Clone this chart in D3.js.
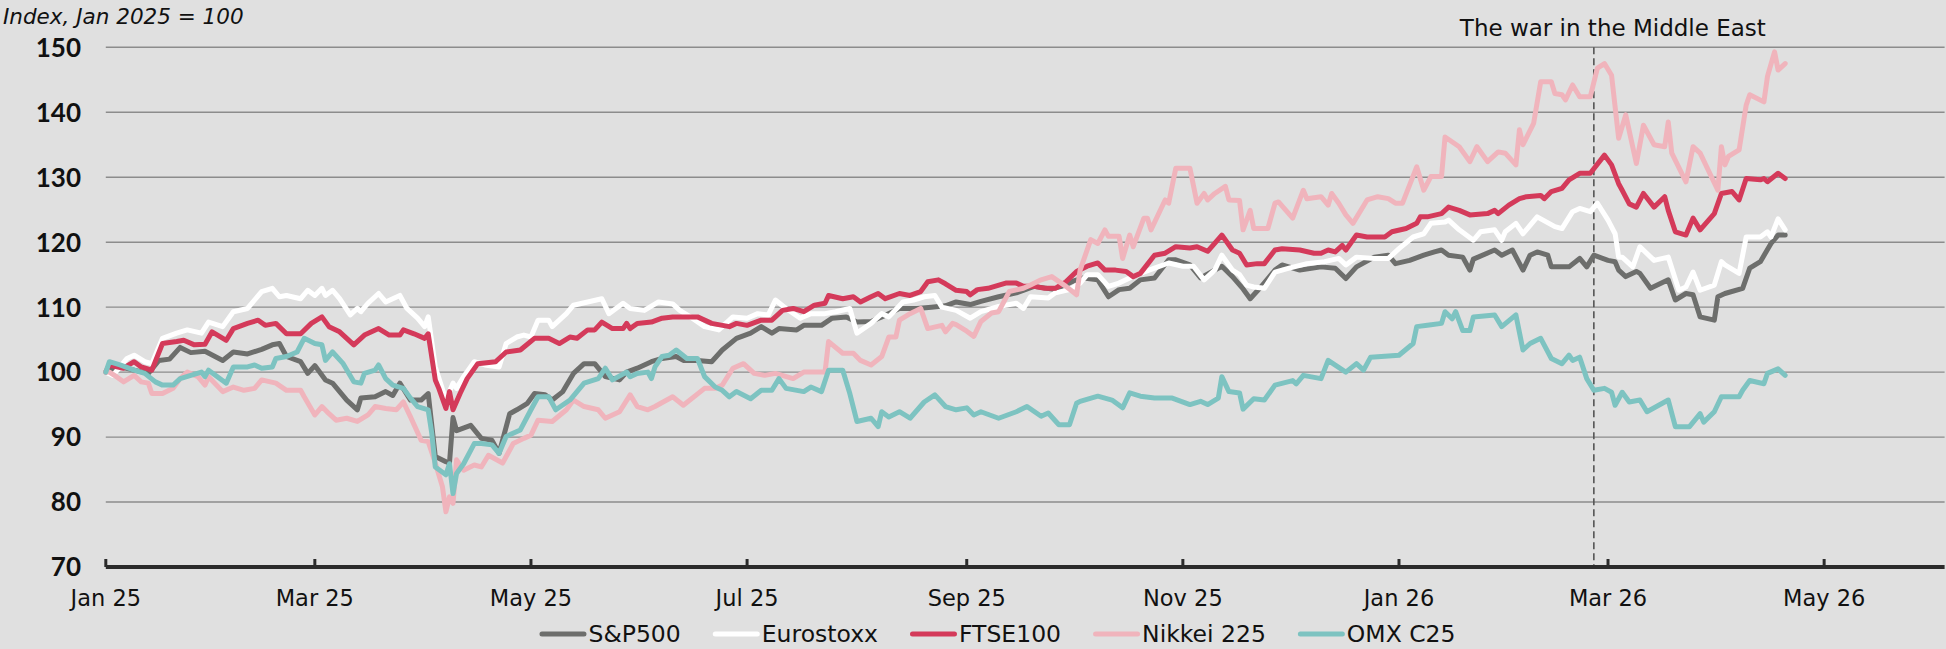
<!DOCTYPE html>
<html><head><meta charset="utf-8">
<script src="https://cdn.jsdelivr.net/npm/d3@7"></script>
<style>
html,body{margin:0;padding:0;background:#e0e0e0;}
svg{display:block;}
text{font-family:"DejaVu Sans",sans-serif;fill:#111;}
text.ylab{font-family:Lato,"DejaVu Sans",sans-serif;}
</style></head>
<body><svg id="c" width="1946" height="649"></svg>
<script>
// Values: [days since 1 Jan 2025, index level (Jan 2025 = 100)]
const sp500 = [[0,100],[4,100.8],[8,100.3],[12,99.8],[15,101.8],[18,102],[21,103.8],[24,103],[28,103.2],[33,101.8],[36,103.1],[40,102.8],[44,103.5],[47,104.2],[49,104.4],[51,102.4],[55,101.6],[57,99.8],[59,101],[62,98.8],[64,98.3],[68,95.7],[71,94.2],[72,96],[76,96.2],[79,97],[81,96.4],[83,98.3],[86,95.7],[89,95.7],[91,96.7],[93,87],[96,86.2],[97,86],[98,93],[99,91],[103,91.8],[106,89.8],[109,89.5],[111,87.5],[114,93.6],[116,94.2],[119,95.2],[121,96.7],[124,96.5],[126,95.7],[129,97],[132,99.8],[135,101.3],[138,101.3],[141,99.3],[145,98.8],[147,100],[150,100.6],[154,101.6],[157,102.1],[161,102.4],[163,101.8],[167,101.8],[171,101.6],[174,103.4],[178,105.2],[182,106],[185,107],[188,106],[190,106.7],[195,106.5],[197,107.2],[202,107.2],[205,108.3],[209,108.5],[212,107.7],[216,107.8],[219,108.5],[224,109.8],[229,109.8],[233,110],[237,110.2],[240,110.8],[244,110.4],[247,110.9],[252,111.6],[257,112.2],[262,113.2],[268,112.7],[273,114],[276,114.5],[280,114.2],[283,111.6],[286,112.7],[289,112.9],[292,114.2],[296,114.5],[300,117.3],[302,117.3],[306,116.5],[309,114.5],[315,116.3],[318,114.7],[321,112.8],[323,111.3],[326,113.1],[330,115.7],[332,116.5],[337,115.7],[343,116.2],[347,116],[350,114.4],[353,116.2],[358,117.7],[362,118],[364,116.7],[368,117.2],[372,118],[375,118.5],[377,118.8],[379,118],[383,117.7],[385,115.7],[386,117.4],[392,118.8],[394,118],[397,118.8],[400,115.7],[402,118],[404,118.5],[407,118],[408,116.2],[413,116.2],[416,117.5],[418,116.2],[420,118],[424,117.2],[426,117],[427,115.7],[429,114.7],[432,115.5],[433,115.2],[436,112.9],[441,114.2],[443,111.1],[446,112.1],[448,111.9],[450,108.5],[454,108],[455,111.6],[457,112.1],[462,112.9],[464,116],[467,117],[470,119.8],[472,121.1],[474,121.1]];
const eurostoxx = [[0,100],[2,99.5],[6,102.1],[8,102.6],[11,101.6],[13,101.3],[16,105.2],[20,106],[23,106.5],[27,106],[29,107.7],[33,107],[36,109.3],[40,109.8],[44,112.4],[47,112.9],[49,111.6],[51,111.8],[55,111.3],[57,112.6],[59,111.8],[61,112.9],[62,111.8],[64,112.6],[66,111.3],[69,108.8],[71,109.8],[72,109.3],[74,110.6],[77,112.1],[79,110.8],[83,111.8],[85,109.8],[88,108.3],[90,107],[91,108.5],[93,100.8],[96,95.7],[98,98.3],[99,97.5],[101,99.3],[104,101.6],[107,101.1],[111,100.8],[113,104.4],[116,105.4],[118,105.7],[120,105.4],[122,108],[125,108],[126,107],[130,109],[132,110.3],[136,110.8],[140,111.3],[142,109],[146,110.6],[148,109.8],[152,109.5],[156,110.8],[160,110.5],[162,109.5],[165,108.5],[169,107],[173,106.5],[177,108.5],[181,108.3],[184,109],[187,108.8],[189,111.1],[192,109.8],[196,108.3],[199,109],[203,109],[206,109.3],[210,109.8],[212,106],[216,107.5],[219,109],[221,108.5],[225,110.8],[228,111.1],[231,111.6],[234,111.8],[236,110],[240,109.5],[244,108.3],[247,109.3],[252,110.1],[257,110.6],[259,109.8],[261,111.6],[266,111.4],[268,112.2],[272,112.7],[275,113.7],[277,115],[280,115],[283,113.2],[286,113.7],[289,114.5],[292,115.2],[296,116],[300,116.8],[304,116.3],[307,116.3],[310,114.2],[313,115.7],[315,118],[318,115.7],[320,115],[322,113.4],[324,113.1],[327,112.9],[330,115.4],[334,116],[339,116.7],[344,117],[348,117.5],[350,116.5],[353,117.7],[358,117.5],[362,117.5],[365,119],[369,120.8],[372,121.3],[374,122.9],[378,123.1],[379,123.4],[382,121.9],[386,120.3],[388,121.6],[392,121.9],[394,120.3],[395,121.6],[398,122.9],[400,121.3],[402,122.6],[404,123.9],[409,122.4],[411,122.1],[414,124.7],[416,125.2],[419,124.7],[421,126],[424,123.4],[426,121.3],[427,117.7],[428,117.7],[431,116.2],[433,119.3],[437,117.2],[441,117.7],[444,112.6],[446,113.1],[448,115.4],[450,112.6],[454,113.4],[456,117],[457,116.5],[461,115.2],[463,120.8],[467,120.8],[469,121.6],[470,120.8],[472,123.6],[474,121.9]];
const ftse100 = [[0,100],[1,101.1],[5,100.6],[8,101.6],[10,100.8],[13,100.3],[16,104.4],[20,104.7],[22,104.9],[25,104.2],[28,104.3],[30,106.2],[34,104.9],[36,106.7],[40,107.5],[43,108],[45,107.2],[48,107.5],[51,105.9],[55,105.9],[58,107.5],[61,108.5],[63,107],[66,106.2],[70,104.2],[73,105.7],[77,106.7],[80,105.7],[83,105.7],[84,106.5],[87,105.9],[90,105.2],[91,105.9],[93,98.8],[94,97.5],[96,94.4],[97,97],[98,94.2],[100,96.7],[102,99],[105,101.3],[110,101.6],[113,103.1],[117,103.4],[121,105.2],[125,105.2],[128,104.4],[131,105.4],[133,105.2],[136,106.5],[138,106.5],[140,107.7],[143,106.7],[146,106.7],[147,107.5],[148,106.7],[150,107.5],[154,107.7],[157,108.3],[160,108.5],[163,108.5],[167,108.5],[169,108],[171,107.5],[176,107],[178,107.5],[181,107.2],[185,108],[188,108],[191,109.5],[194,109.8],[197,109.3],[200,110.3],[203,110.6],[204,111.8],[208,111.3],[211,111.6],[213,110.8],[216,111.6],[218,112.1],[220,111.3],[224,112.1],[227,111.8],[230,112.4],[232,113.9],[235,114.2],[237,113.6],[240,112.6],[243,112.4],[244,111.9],[246,112.7],[249,112.9],[254,113.7],[257,113.7],[259,113.2],[262,113.2],[265,112.9],[268,112.9],[271,113.9],[274,115.5],[277,116.3],[280,116.8],[282,115.7],[285,115.7],[288,115.5],[290,114.7],[292,115.2],[296,118],[299,118.3],[302,119.3],[306,119.1],[308,119.3],[311,118.6],[315,121.1],[318,118.8],[320,118.3],[322,116.5],[325,116.7],[327,116.7],[330,118.8],[332,119],[337,118.8],[341,118.3],[343,118.3],[345,118.8],[347,118.5],[349,119.5],[350,118.8],[353,121.1],[356,120.8],[361,120.8],[363,121.6],[367,122.1],[370,122.9],[371,123.9],[373,123.9],[377,124.4],[379,125.4],[382,124.9],[385,124.2],[390,124.4],[392,124.9],[393,124.4],[396,125.7],[399,126.7],[401,127],[405,127.2],[406,126.7],[408,127.8],[411,128.3],[413,129.6],[416,130.6],[419,130.6],[423,133.4],[425,131.9],[427,129],[428,128],[430,125.9],[432,125.4],[434,127.5],[437,125.4],[440,127],[441,124.9],[443,121.6],[446,121.1],[448,123.7],[450,121.9],[454,124.4],[456,127.5],[459,127.8],[461,126.5],[463,129.8],[467,129.6],[468,129.8],[469,129.3],[472,130.6],[474,129.8]];
const nikkei225 = [[0,100],[1,100],[3,99.3],[5,98.5],[8,99.5],[10,98.5],[12,98.3],[13,96.7],[16,96.7],[19,97.5],[21,99],[23,100],[26,99.3],[28,98],[29,99.3],[33,97],[36,97.7],[39,97.2],[42,97.5],[44,98.8],[48,98.3],[51,97.2],[55,97.2],[56,96.2],[59,93.4],[61,94.7],[63,93.6],[65,92.6],[68,92.9],[71,92.4],[74,93.4],[76,94.7],[79,94.4],[82,94.2],[84,95.4],[86,93.1],[89,89.5],[91,89.3],[93,86],[95,82.4],[96,78.5],[97,80.8],[98,79.8],[99,86.5],[101,84.9],[104,85.7],[106,85.4],[108,87.2],[112,86],[115,89],[118,89.8],[120,90.3],[122,92.6],[126,92.4],[130,94.2],[132,95.7],[135,94.7],[139,94.2],[141,92.9],[145,93.9],[148,96.5],[150,94.7],[153,94.2],[155,94.7],[160,96.2],[163,94.9],[169,97.5],[172,97.5],[174,98],[177,100.6],[180,101.3],[183,99.8],[186,99.5],[189,99.8],[194,99],[197,100],[201,100],[203,100],[204,104.7],[208,102.9],[211,102.9],[213,101.8],[216,101.1],[219,102.4],[221,105.4],[223,105.4],[224,108],[227,109],[230,109.8],[232,106.7],[236,107.2],[237,106.2],[239,107.5],[240,107.3],[243,106.3],[245,105.5],[247,107.8],[250,109.1],[252,109.3],[255,112.4],[259,112.9],[261,113.4],[264,114.2],[267,114.7],[271,113.2],[274,111.9],[275,115.7],[278,120.4],[280,119.8],[282,121.9],[283,120.9],[286,120.9],[287,117.5],[289,121.1],[290,119.3],[293,123.7],[294,123.7],[295,121.9],[299,126.5],[300,126],[302,131.4],[306,131.4],[308,126],[310,127.5],[311,126.5],[313,127.5],[316,128.6],[317,126.5],[320,126.4],[321,121.9],[323,124.9],[324,122.1],[328,122.1],[330,126],[331,126.2],[335,123.7],[338,128],[339,126.7],[343,127],[345,125.7],[346,127.5],[348,126],[350,124.2],[352,122.9],[356,126.5],[359,127],[362,126.7],[364,126],[366,126],[370,131.6],[372,128],[374,130.1],[377,130.1],[378,136.2],[382,134.7],[385,132.4],[387,134.7],[390,132.4],[393,133.9],[395,133.7],[398,131.9],[399,137.3],[400,135],[403,138.3],[405,144.7],[408,144.7],[409,142.9],[411,142.7],[412,141.9],[414,144.2],[416,142.4],[419,142.4],[421,146.8],[423,147.5],[425,145.7],[427,136],[429,139.6],[432,132.1],[434,138],[437,135],[440,134.7],[441,138.5],[442,133.7],[446,129.3],[448,134.7],[450,133.7],[455,128],[456,134.7],[457,131.9],[458,133.2],[461,134.2],[463,141.1],[464,142.7],[468,141.6],[469,145.5],[471,149.3],[472,146.5],[474,147.5]];
const omxC25 = [[0,100],[1,101.6],[4,101.1],[8,100.3],[11,99.8],[14,98.5],[16,98],[19,98],[21,99],[24,99.5],[27,100],[28,99.3],[29,100.3],[34,98.3],[36,100.8],[40,100.8],[42,101.1],[44,100.6],[47,100.8],[48,102.1],[51,102.4],[54,103.1],[56,105.2],[59,104.4],[61,104.2],[62,101.8],[64,103.1],[67,101.3],[70,98.5],[72,98.3],[73,99.8],[76,100.3],[77,101.1],[79,99],[81,98],[84,97.5],[86,96],[88,94.7],[91,94.2],[92,90.6],[93,85.4],[96,84.2],[97,85.9],[98,81.3],[99,84.4],[101,85.9],[104,89],[106,89],[109,88.8],[111,87.5],[113,90.1],[117,91.1],[120,94.2],[122,96.2],[125,96.2],[127,94.2],[131,95.7],[135,98.3],[139,99],[141,100.6],[143,98.8],[147,100],[148,99.3],[150,99.8],[153,100],[154,99],[155,100.8],[157,102.4],[159,102.6],[161,103.4],[164,102.1],[167,102.1],[169,99.3],[172,97.7],[174,97.2],[176,96.2],[178,97],[182,95.9],[185,97.2],[188,97.2],[190,99],[192,97.5],[197,97],[199,97.7],[202,97],[204,100.3],[208,100.3],[210,96.7],[212,92.4],[216,92.9],[218,91.6],[219,93.9],[221,93.1],[224,93.9],[227,92.9],[231,95.4],[234,96.5],[237,94.7],[240,94.2],[243,94.5],[245,93.4],[247,93.9],[252,92.9],[257,93.9],[260,94.7],[264,93.2],[266,93.7],[269,91.9],[272,91.9],[274,95.2],[275,95.5],[280,96.3],[284,95.7],[287,94.5],[289,96.8],[292,96.3],[296,96],[301,96],[306,95],[309,95.5],[311,95],[314,96],[315,99.3],[317,97],[320,96.8],[321,94.3],[324,95.9],[327,95.7],[330,98],[335,98.7],[336,98.2],[338,99.5],[343,99],[345,101.8],[350,100],[353,101.3],[355,100.3],[357,102.3],[365,102.6],[369,104.4],[370,107],[373,107.2],[377,107.5],[378,109.3],[380,108.2],[381,109.3],[383,106.4],[385,106.4],[386,108.5],[392,108.8],[394,107],[398,108.8],[400,103.4],[402,104.4],[405,105.2],[408,102.1],[411,101.3],[413,102.6],[414,101.8],[416,102.3],[418,99],[420,97.2],[423,97.5],[425,96.9],[426,94.9],[428,96.9],[430,95.4],[433,95.7],[435,93.9],[441,95.7],[443,91.6],[447,91.6],[450,93.6],[451,92.3],[454,93.9],[456,96.2],[461,96.2],[462,97.2],[464,98.7],[468,98.2],[469,99.8],[472,100.5],[474,99.5]];

const seriesNames = ["S&P500", "Eurostoxx", "FTSE100", "Nikkei 225", "OMX C25"];
const seriesData = [sp500, eurostoxx, ftse100, nikkei225, omxC25];
const seriesColors = ["#6d6e6c", "#ffffff", "#d43a5a", "#f0b4bc", "#7dc3c1"];
const yTicks = [70, 80, 90, 100, 110, 120, 130, 140, 150];
const xTickDates = ["2025-01-01","2025-03-01","2025-05-01","2025-07-01","2025-09-01","2025-11-01","2026-01-01","2026-03-01","2026-05-01"];
const eventDate = "2026-02-25";
const eventLabel = "The war in the Middle East";
const yTitle = "Index, Jan 2025 = 100";

const base = new Date(2025, 0, 1);
const toDate = d => d3.timeDay.offset(base, d);
const parse = d3.timeParse("%Y-%m-%d");

const svg = d3.select("#c");
const x = d3.scaleTime().domain([base, new Date(2026, 5, 4)]).range([105.8, 1944.6]);
const y = d3.scaleLinear().domain([70, 150]).range([567, 47.3]);

// gridlines
svg.append("g").selectAll("line").data(yTicks.filter(t => t > 70)).join("line")
  .attr("x1", x.range()[0]).attr("x2", x.range()[1])
  .attr("y1", d => y(d)).attr("y2", d => y(d))
  .attr("stroke", "#8c8c8c").attr("stroke-width", 1.4);

// y labels
svg.append("g").selectAll("text").data(yTicks).join("text").attr("class", "ylab")
  .attr("x", 81).attr("y", d => y(d)).attr("dy", "0.36em")
  .attr("text-anchor", "end").attr("font-weight", 700).attr("font-size", 26)
  .text(d => d);

// title
svg.append("text").attr("x", 3).attr("y", 24).attr("font-style", "italic")
  .attr("font-size", 21.5).text(yTitle);

// event line
const ex = x(parse(eventDate));
svg.append("line").attr("x1", ex).attr("x2", ex).attr("y1", y(150)).attr("y2", y(70))
  .attr("stroke", "#555").attr("stroke-width", 1.6).attr("stroke-dasharray", "7,4");
svg.append("text").attr("x", ex + 19).attr("y", 36).attr("text-anchor", "middle")
  .attr("font-size", 23).text(eventLabel);

// lines
const line = d3.line().x(d => x(toDate(d[0]))).y(d => y(d[1]));
svg.append("g").selectAll("path").data(seriesData).join("path")
  .attr("d", d => line(d)).attr("fill", "none")
  .attr("stroke", (d, i) => seriesColors[i]).attr("stroke-width", 5)
  .attr("stroke-linejoin", "round").attr("stroke-linecap", "round");

// x axis
const axisY = y(70);
svg.append("line").attr("x1", x.range()[0]).attr("x2", x.range()[1])
  .attr("y1", axisY).attr("y2", axisY).attr("stroke", "#2b2b2b").attr("stroke-width", 4);
const xt = xTickDates.map(parse);
svg.append("g").selectAll("line").data(xt).join("line")
  .attr("x1", d => x(d)).attr("x2", d => x(d)).attr("y1", axisY).attr("y2", axisY - 8)
  .attr("stroke", "#2b2b2b").attr("stroke-width", 3);
svg.append("g").selectAll("text").data(xt).join("text")
  .attr("x", d => x(d)).attr("y", 606).attr("text-anchor", "middle").attr("font-size", 22.5)
  .text(d3.timeFormat("%b %y"));

// legend
const lg = svg.append("g");
const items = seriesNames.map((n, i) => {
  const g = lg.append("g");
  g.append("line").attr("x1", 2.5).attr("x2", 44.5).attr("y1", 0).attr("y2", 0)
    .attr("stroke", seriesColors[i]).attr("stroke-width", 5).attr("stroke-linecap", "round");
  const t = g.append("text").attr("x", 49).attr("y", 0).attr("dy", "0.36em").attr("font-size", 23.5).text(n);
  return {g, w: 49 + t.node().getComputedTextLength()};
});
const gap = 32;
const total = d3.sum(items, d => d.w) + gap * (items.length - 1);
let cx = 997.5 - total / 2;
items.forEach(it => { it.g.attr("transform", `translate(${cx},634)`); cx += it.w + gap; });
</script></body></html>
